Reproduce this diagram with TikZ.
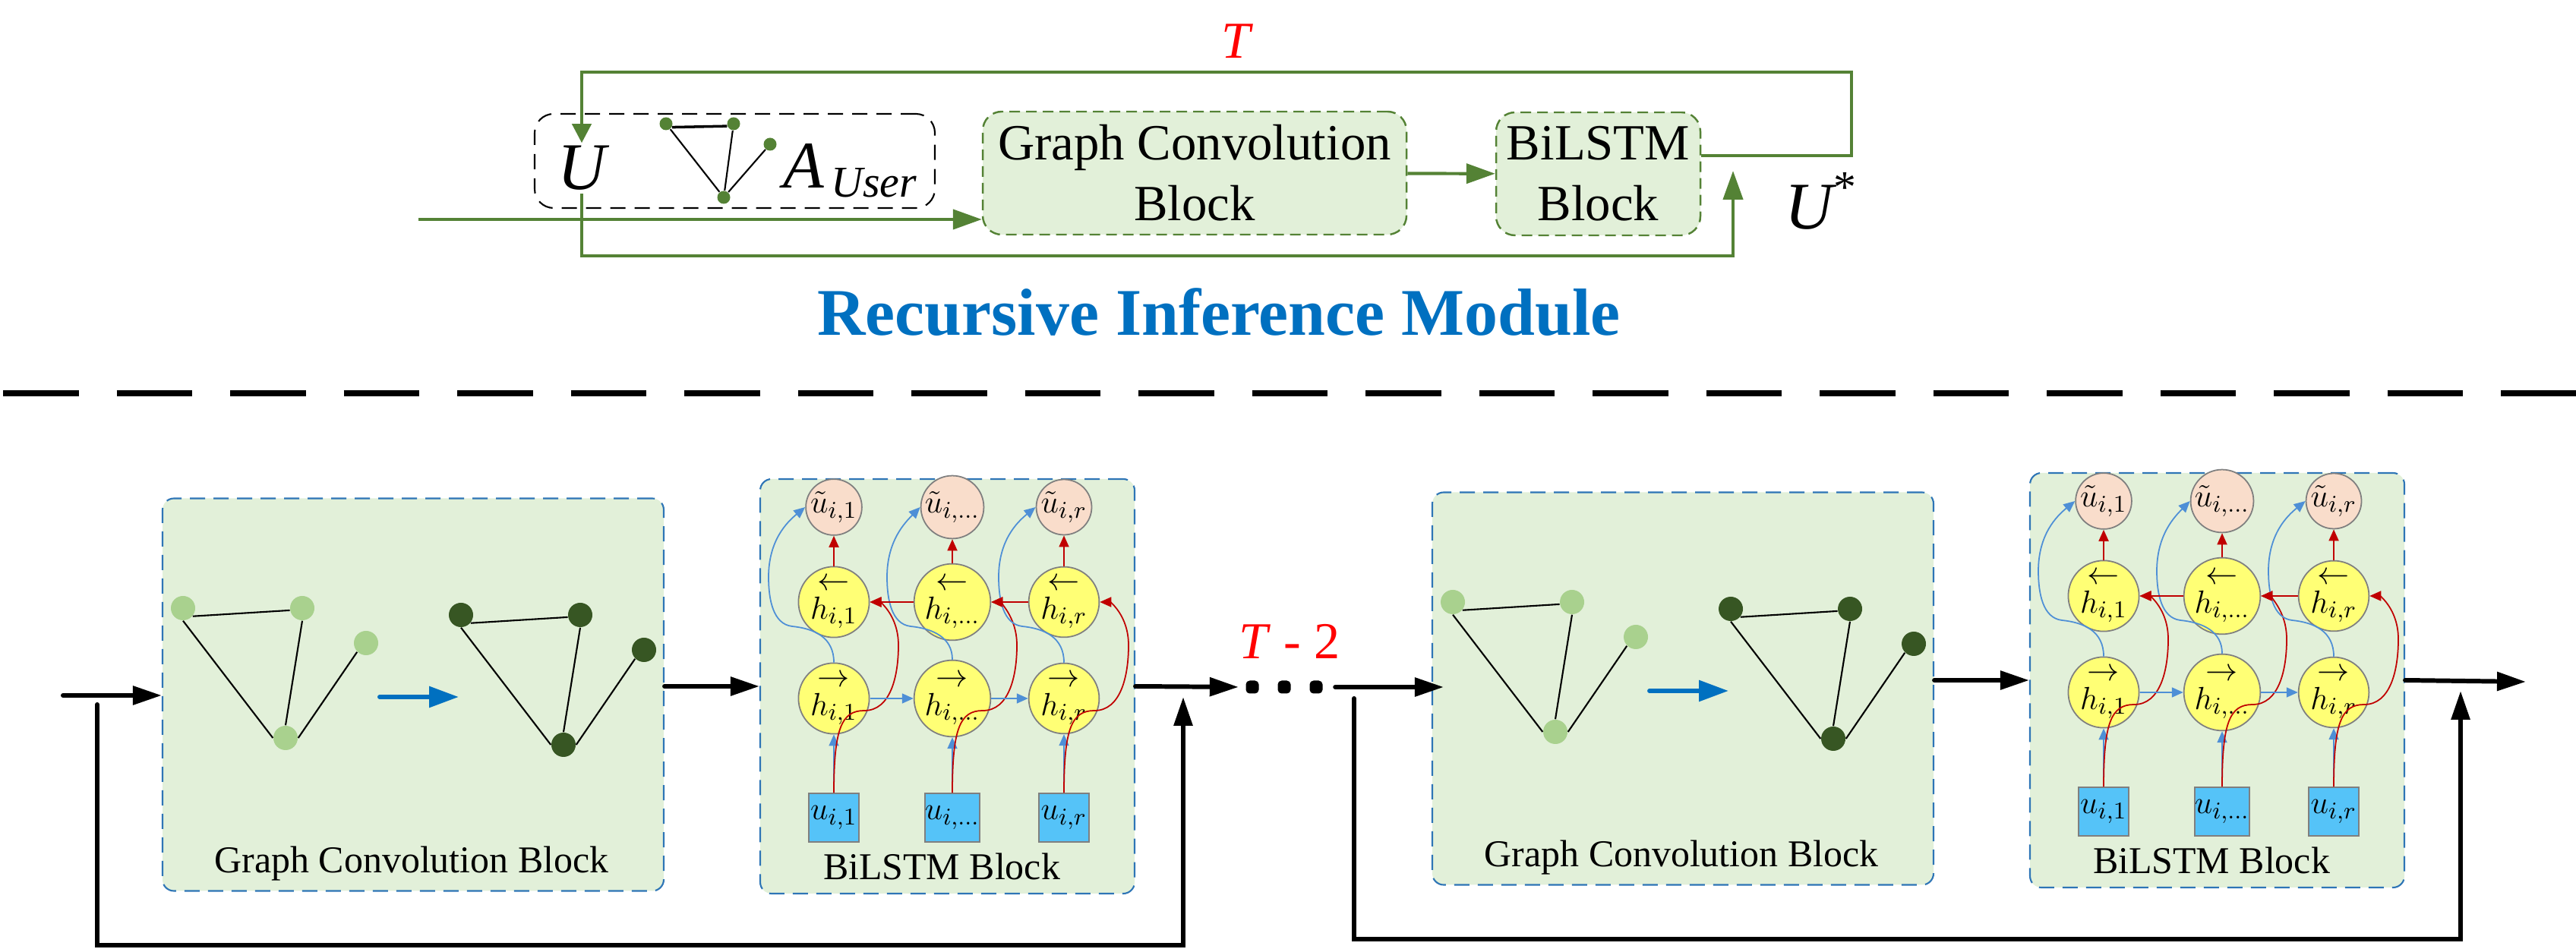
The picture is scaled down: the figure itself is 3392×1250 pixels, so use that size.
\documentclass[tikz,border=0pt]{standalone}
\usepackage{amsmath}
\usepackage{fontspec}
\setmainfont{Liberation Serif}
\usetikzlibrary{arrows.meta,calc,positioning}
\definecolor{leaf}{HTML}{548235}
\definecolor{mint}{HTML}{E2F0D9}
\definecolor{pale}{HTML}{A9D18E}
\definecolor{moss}{HTML}{375623}
\definecolor{ocean}{HTML}{0070C0}
\definecolor{rim}{HTML}{2E75B6}
\definecolor{peach}{HTML}{F9DDCB}
\definecolor{lemon}{HTML}{FFFF75}
\definecolor{sky}{HTML}{55C3F8}
\definecolor{wire}{HTML}{4E8FD6}
\definecolor{ruby}{HTML}{C00000}
\definecolor{slate}{HTML}{7F7F7F}
\tikzset{greenbox/.style={draw=leaf,fill=mint,line width=.7pt,dash pattern=on 1.4mm off .8mm,rounded corners=2.5mm,align=center,inner sep=0pt,font=\fontsize{19}{22.8}\selectfont}, userbox/.style={draw=black,line width=.6pt,dash pattern=on 2mm off 1.2mm,rounded corners=2.5mm,minimum width=52.7mm,minimum height=12.4mm}, stagebox/.style={draw=rim,fill=mint,line width=.6pt,dash pattern=on 2mm off 1.1mm,rounded corners=1.5mm}, loopline/.style={draw=leaf,line width=1.2pt}, looparrow/.style={loopline,-{Triangle[length=3.8mm,width=2.6mm]}}, flow/.style={line width=1.7pt,line cap=round,-{Triangle[length=3.8mm,width=2.4mm]}}, gcarrow/.style={ocean,line width=1.7pt,line cap=round,-{Triangle[length=3.9mm,width=2.7mm]}}, gnode/.style={circle,inner sep=0pt,minimum size=3.2mm}, tinynode/.style={circle,inner sep=0pt,minimum size=1.7mm,fill=leaf}, gedge/.style={line width=.6pt}, cell/.style={circle,draw=slate,line width=.5pt,inner sep=0pt,minimum size=6.6mm,font=\fontsize{13}{15}\selectfont}, hcell/.style={cell,fill=lemon}, outcell/.style={cell,fill=peach}, incell/.style={cell,rectangle,fill=sky,minimum width=6.6mm,minimum height=6.4mm}, fwd/.style={draw=wire,line width=.5pt,-{Triangle[length=1.5mm,width=1.3mm]}}, bwd/.style={draw=ruby,line width=.5pt,-{Triangle[length=1.5mm,width=1.3mm]}}, blocklabel/.style={anchor=base,inner sep=0pt,font=\fontsize{14.2}{17}\selectfont}, dotmark/.style={fill=black,rounded corners=.5mm,minimum size=1.7mm,inner sep=0pt}, redlabel/.style={anchor=base,inner sep=0pt,text=red,font=\fontsize{19.4}{23}\selectfont}, bigmath/.style={anchor=base,inner sep=1pt,font=\fontsize{25}{30}\selectfont\itshape}}
\begin{document}
\begin{tikzpicture}[x=.1mm,y=-.1mm]
\useasboundingbox (0,0) rectangle (3392,1250);
\node[userbox] (userbox) at (967.5,212) {};
\node[bigmath] (uTop) at (766,250) {U};
\node[tinynode] (tg1) at (877,163) {};
\node[tinynode] (tg2) at (966,163) {};
\node[tinynode] (tg3) at (1014,190) {};
\node[tinynode] (tg4) at (953,260) {};
\draw[line width=1pt] (tg1.-30) -- (tg2.200);
\draw[gedge] (tg1) -- (tg4) (tg2) -- (tg4) (tg3) -- (tg4);
\node[bigmath,anchor=base west,inner sep=0pt] (aUser) at (1031,248) {A\kern.1em\raisebox{-3.4pt}{\fontsize{16.5}{20}\selectfont User}};
\node[greenbox,minimum width=55.8mm,minimum height=16.2mm] (gcTop) at (1573,228) {Graph Convolution\\Block};
\node[greenbox,minimum width=26.9mm,minimum height=16.2mm] (lstmTop) at (2104.5,229) {BiLSTM\\Block};
\node[bigmath,anchor=base west,inner sep=0pt] (uStar) at (2350,302) {U\raisebox{10pt}{\fontsize{17}{20}\selectfont\upshape *}};
\node[redlabel,font=\fontsize{19.4}{23}\selectfont\itshape] (tTop) at (1627,77) {T};
\coordinate (srcTop) at (551,289);
\coordinate (cornerTop) at (2438,95);
\coordinate (lowTop) at (1500,337);
\coordinate (joinTop) at (2282,225);
\draw[looparrow] (srcTop) -- (srcTop -| gcTop.west);
\draw[looparrow] (gcTop) -- (lstmTop);
\draw[loopline,-{Triangle[length=2.5mm,width=2.5mm]}] ([yshift=2.4mm]lstmTop.east) -| (cornerTop) -| (uTop.north);
\draw[looparrow] (uTop.south) |- (lowTop) -| (joinTop);
\node[anchor=base,inner sep=0pt,text=ocean,font=\fontsize{25}{30}\selectfont\bfseries] (title) at (1605,442) {Recursive Inference Module};
\draw[line width=2pt,dash pattern=on 9.95mm off 5mm] (4,518) -- (3392,518);
\foreach \st/\dx/\dy/\tx/\jx in {A/0/0/128/1558,B/1672/-8/111/1568}{
\begin{scope}[shift={(\dx,\dy)}]
\node[stagebox,minimum width=66mm,minimum height=51.7mm] (gc\st) at (544,915) {};
\node[blocklabel] (gcLabel\st) at (542,1149) {Graph Convolution Block};
\foreach \n/\px/\py in {1/241/801,2/398/801,3/482/847,4/376/972}{
\node[gnode,fill=pale] (p\st\n) at (\px,\py) {};
\node[gnode,fill=moss] (q\st\n) at (\px+366,\py+9) {};}
\foreach \g in {p,q}\draw[gedge] (\g\st1.-40) -- (\g\st2.190) (\g\st1.south) -- (\g\st4.west) (\g\st2.south) -- (\g\st4.north) (\g\st3.225) -- (\g\st4.east);
\coordinate (gfrom\st) at (500,918);
\coordinate (gto\st) at (604,918);
\draw[gcarrow] (gfrom\st) -- (gto\st);
\node[stagebox,minimum width=49.3mm,minimum height=54.6mm] (lstm\st) at (1247.5,904) {};
\node[blocklabel] (lstmLabel\st) at (1240,1159) {BiLSTM Block};
\foreach \col/\cx/\lab in {1/1098/1,2/1254/\ldots,3/1401/r}{
\node[outcell] (o\st\col) at (\cx,668) {$\tilde{u}_{i,\lab}$};
\node[hcell] (b\st\col) at (\cx,793) {$\overset{\displaystyle\leftarrow}{h_{i,\lab}}$};
\node[hcell] (f\st\col) at (\cx,920) {$\overset{\displaystyle\rightarrow}{h_{i,\lab}}$};
\node[incell] (x\st\col) at (\cx,1077) {$u_{i,\lab}$};
\draw[fwd] (x\st\col) -- (f\st\col);
\draw[bwd] (b\st\col) -- (o\st\col);
\draw[bwd] (x\st\col.north) .. controls (\cx,960) and (\cx+10,936) .. (\cx+40,936) .. controls (\cx+75,936) and (\cx+85,890) .. (\cx+85,850) .. controls (\cx+85,810) and (\cx+60,793) .. (b\st\col.east);
\draw[fwd] (f\st\col.north) .. controls (\cx,840) and (\cx-25,828) .. (\cx-55,825) .. controls (\cx-80,822) and (\cx-86,790) .. (\cx-86,760) .. controls (\cx-86,712) and (\cx-62,688) .. (o\st\col.west);}
\draw[fwd] (f\st1) -- (f\st2);
\draw[fwd] (f\st2) -- (f\st3);
\draw[bwd] (b\st3) -- (b\st2);
\draw[bwd] (b\st2) -- (b\st1);
\draw[flow] (gc\st.east |- lstm\st.west) -- (lstm\st.west);
\coordinate (tap\st) at (\tx,928);
\coordinate (low\st) at (800,1245);
\coordinate (join\st) at (\jx,918);
\draw[flow] (tap\st) |- (low\st) -| (join\st);
\end{scope}}
\coordinate (srcA) at (83,916);
\draw[flow] (srcA) -- (srcA -| gcA.west);
\node[dotmark] (dot1) at (1649,905) {};
\node[dotmark] (dot2) at (1691,905) {};
\node[dotmark] (dot3) at (1733,905) {};
\draw[flow,shorten >=.9mm] (lstmA.east) -- (dot1.west);
\draw[flow] ([xshift=1.6mm]dot3.east) -- ([xshift=1.6mm]dot3.east -| gcB.west);
\coordinate (outB) at (3326,898);
\draw[flow] (lstmB.east) -- (outB);
\node[redlabel] (tLabel) at (1698,868) {\textit{T} - 2};
\end{tikzpicture}
\end{document}
